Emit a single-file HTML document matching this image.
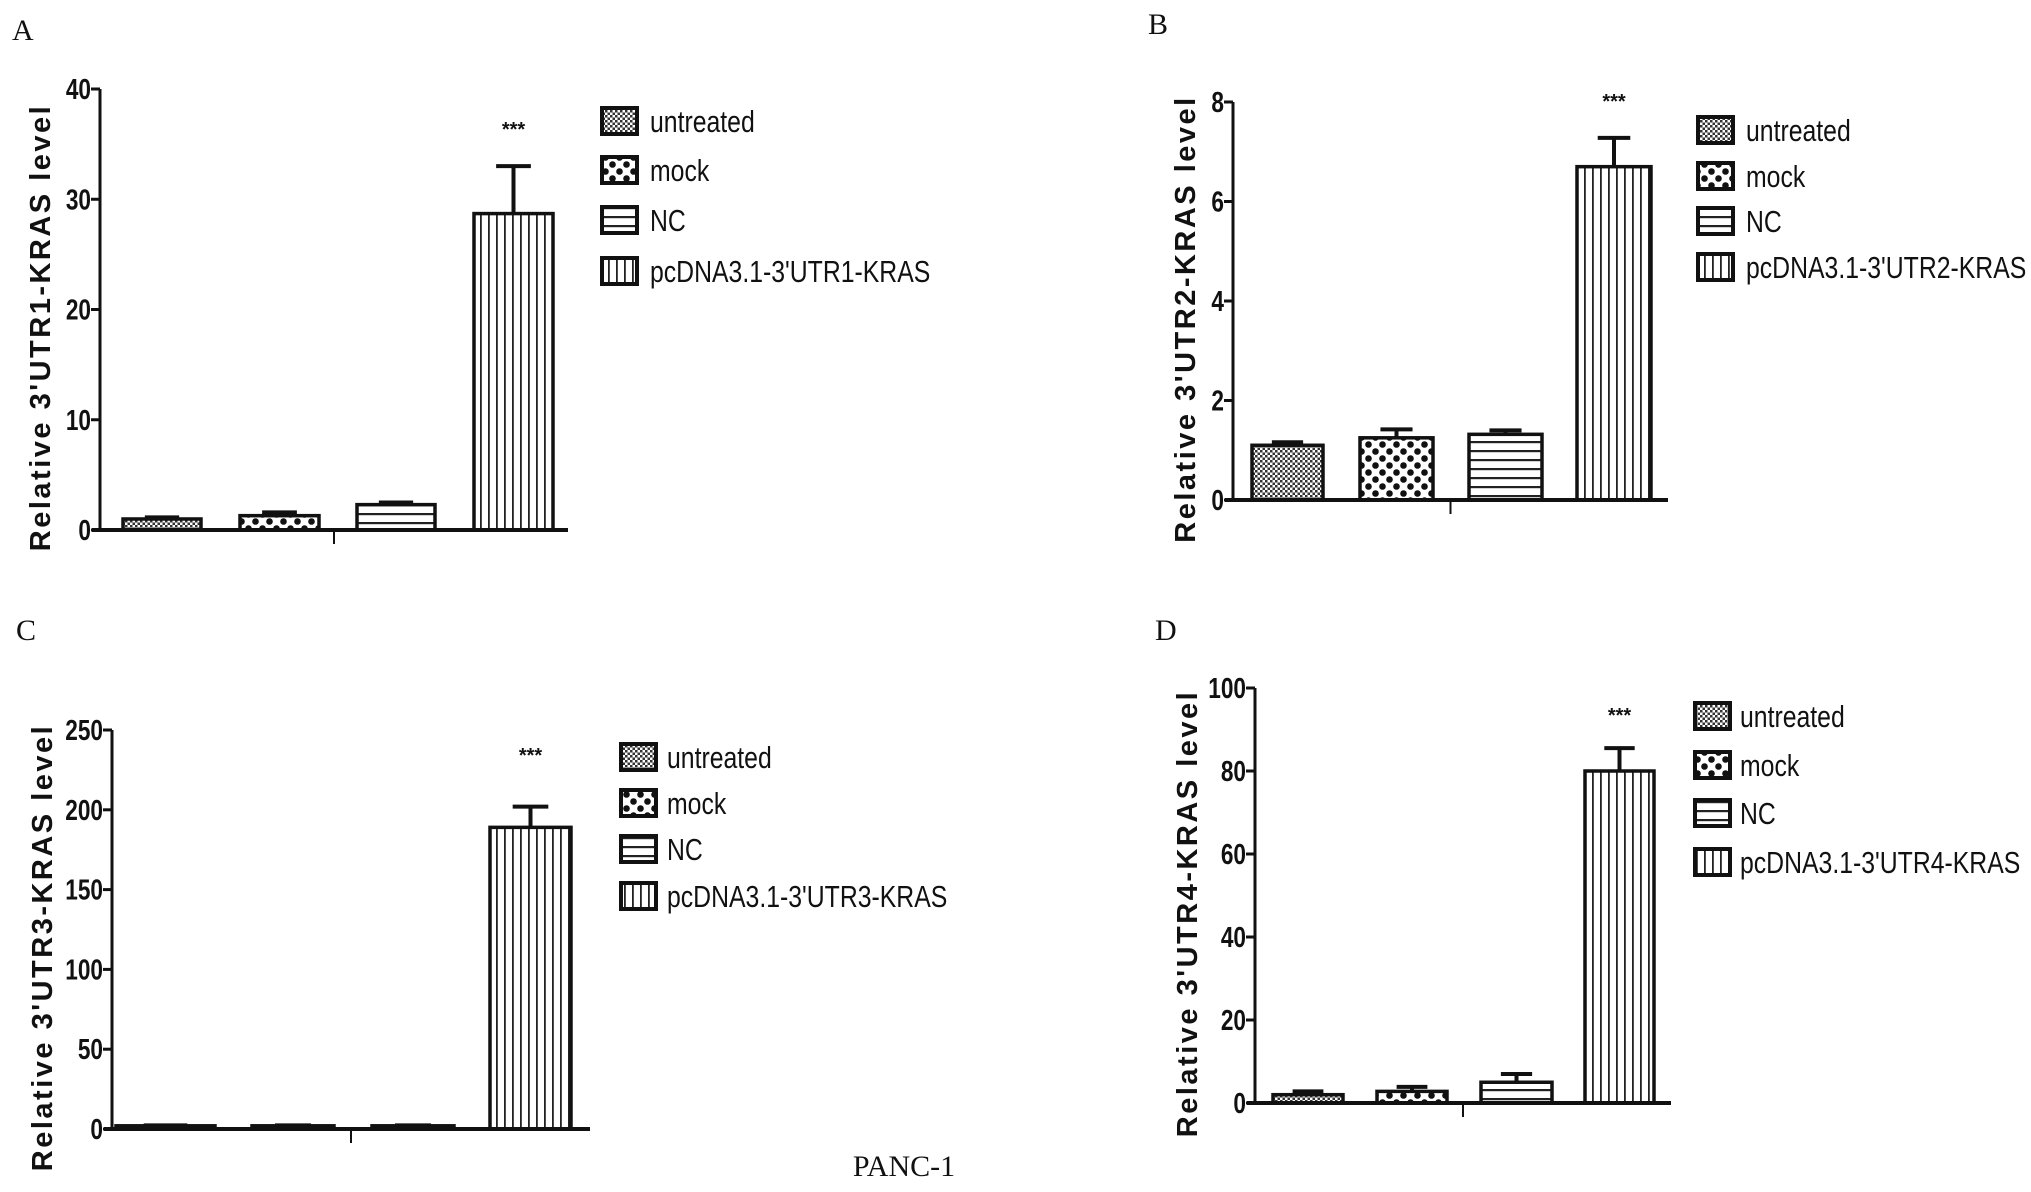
<!DOCTYPE html>
<html><head><meta charset="utf-8"><style>
html,body{margin:0;padding:0;background:#fff;}
svg{display:block;}
</style></head><body>
<svg id="fig" width="2031" height="1192" viewBox="0 0 2031 1192" xmlns="http://www.w3.org/2000/svg">
<defs>
<pattern id="p-untreated" width="5" height="5" patternUnits="userSpaceOnUse"><rect width="5" height="5" fill="#fff"/><rect width="2.5" height="2.5" fill="#333"/><rect x="2.5" y="2.5" width="2.5" height="2.5" fill="#333"/></pattern>
<pattern id="p-mock" width="14" height="14" patternUnits="userSpaceOnUse"><rect width="14" height="14" fill="#fff"/><circle cx="3.5" cy="3.5" r="3.3" fill="#111"/><circle cx="10.5" cy="10.5" r="3.3" fill="#111"/></pattern>
<pattern id="p-nc" width="10" height="9" patternUnits="userSpaceOnUse"><rect width="10" height="9" fill="#fff"/><rect y="0" width="10" height="2.2" fill="#222"/></pattern>
<pattern id="p-pc" width="8" height="10" patternUnits="userSpaceOnUse"><rect width="8" height="10" fill="#fff"/><rect x="0" width="1.8" height="10" fill="#222"/></pattern>
</defs>
</svg>
<script>
// ---- data ----
const categories = ["untreated","mock","NC","pcDNA3.1"];
const valuesA = [1.0, 1.3, 2.3, 28.7];
const errorsA = [0.15, 0.3, 0.2, 4.3];
const ticksA = [0,10,20,30,40];
const valuesB = [1.1, 1.25, 1.32, 6.7];
const errorsB = [0.06, 0.17, 0.08, 0.58];
const ticksB = [0,2,4,6,8];
const valuesC = [2, 2, 2, 189];
const errorsC = [0.3, 0.3, 0.3, 13];
const ticksC = [0,50,100,150,200,250];
const valuesD = [2.0, 2.8, 5.0, 80];
const errorsD = [0.8, 1.1, 2.0, 5.5];
const ticksD = [0,20,40,60,80,100];
const legendLabelsA = ["untreated","mock","NC","pcDNA3.1-3'UTR1-KRAS"];
const legendLabelsB = ["untreated","mock","NC","pcDNA3.1-3'UTR2-KRAS"];
const legendLabelsC = ["untreated","mock","NC","pcDNA3.1-3'UTR3-KRAS"];
const legendLabelsD = ["untreated","mock","NC","pcDNA3.1-3'UTR4-KRAS"];

const NS="http://www.w3.org/2000/svg";
const svg=document.getElementById('fig');
const pats=["p-untreated","p-mock","p-nc","p-pc"];
function mk(tag,attrs,parent){const e=document.createElementNS(NS,tag);for(const k in attrs)e.setAttribute(k,attrs[k]);(parent||svg).appendChild(e);return e;}
function txt(parent,x,y,s,size,anchor,weight,sx,family){
  const t=mk('text',{transform:`translate(${x},${y}) scale(${sx},1)`,'font-size':size,'text-anchor':anchor,'font-weight':weight,'font-family':family||'"Liberation Sans", sans-serif',fill:'#111'},parent);
  t.textContent=s;return t;}

const panels=[
 {id:'a',letter:'A',lx:12,ly:40,ax:100,top:89,zero:530,xend:568,bars:[[123,201],[240,319],[357,435],[474,553]],vals:valuesA,errs:errorsA,ticks:ticksA,title:"Relative 3'UTR1-KRAS level",tx:50,lgx:602,lgtx:650,lgy:[121,170,220,271],legend:legendLabelsA,starY:128},
 {id:'b',letter:'B',lx:1148,ly:34,ax:1233,top:102,zero:500,xend:1668,bars:[[1252,1323],[1360,1433],[1469,1542],[1577,1651]],vals:valuesB,errs:errorsB,ticks:ticksB,title:"Relative 3'UTR2-KRAS level",tx:1195,lgx:1698,lgtx:1746,lgy:[130,176,221,267],legend:legendLabelsB,starY:100},
 {id:'c',letter:'C',lx:16,ly:640,ax:112,top:730,zero:1129,xend:590,bars:[[116,215],[252,334],[372,454],[490,571]],vals:valuesC,errs:errorsC,ticks:ticksC,title:"Relative 3'UTR3-KRAS level",tx:52,lgx:621,lgtx:667,lgy:[757,803,849,896],legend:legendLabelsC,starY:754},
 {id:'d',letter:'D',lx:1155,ly:640,ax:1255,top:688,zero:1103,xend:1671,bars:[[1273,1343],[1377,1447],[1481,1552],[1585,1654]],vals:valuesD,errs:errorsD,ticks:ticksD,title:"Relative 3'UTR4-KRAS level",tx:1197,lgx:1695,lgtx:1740,lgy:[716,765,813,862],legend:legendLabelsD,starY:714}
];

panels.forEach(p=>{
  const g=mk('g',{});
  
  
  const maxT=p.ticks[p.ticks.length-1];
  const y=v=>p.zero-(v/maxT)*(p.zero-p.top);
  const lab=txt(g,p.lx,p.ly,p.letter,30,'start','normal',1,'"Liberation Serif", serif');
  
  
  p.vals.forEach((v,i)=>{
    const [x0,x1]=p.bars[i];
    const yt=y(v), ye=y(v+p.errs[i]), cx=(x0+x1)/2;
    const eg=mk('path',{d:`M${cx},${yt} V${ye} M${cx-(x1-x0)*0.22},${ye} H${cx+(x1-x0)*0.22}`,stroke:'#111','stroke-width':4,fill:'none'},g);
    
    
    const r=mk('rect',{x:x0,y:yt,width:x1-x0,height:Math.max(p.zero-yt,0),fill:`url(#${pats[i]})`,stroke:'#111','stroke-width':3.5},g);
    
    
  });
  const ya=mk('line',{x1:p.ax,y1:p.top,x2:p.ax,y2:p.zero,stroke:'#111','stroke-width':3},g);
  
  
  const xa=mk('line',{x1:p.ax-8,y1:p.zero,x2:p.xend,y2:p.zero,stroke:'#111','stroke-width':4},g);
  
  
  const mid=(p.ax+p.xend)/2;
  const xt=mk('line',{x1:mid,y1:p.zero,x2:mid,y2:p.zero+14,stroke:'#111','stroke-width':2},g);
  
  
  p.ticks.forEach(t=>{
    const ty=y(t);
    const tl=mk('line',{x1:p.ax-9,y1:ty,x2:p.ax,y2:ty,stroke:'#111','stroke-width':3},g);
    
    
    const tt=txt(g,p.ax-9,ty+10,String(t),29,'end','bold',0.78);
    
    
  });
  const cy=(p.top+p.zero)/2+18;
  const ttl=mk('text',{transform:`translate(${p.tx},${cy}) rotate(-90)`,'font-size':29,'font-weight':'bold','text-anchor':'middle','font-family':'"Liberation Sans", sans-serif',fill:'#111','letter-spacing':'2.5'},g);
  ttl.textContent=p.title;
  
  
  const sx=(p.bars[3][0]+p.bars[3][1])/2;
  const st=txt(g,sx,p.starY+8,'***',20,'middle','bold',1);
  
  
  p.legend.forEach((s,i)=>{
    const ly=p.lgy[i];
    const sw=mk('rect',{x:p.lgx,y:ly-13,width:35,height:26,fill:`url(#${pats[i]})`,stroke:'#111','stroke-width':4},g);
    
    
    const lt=txt(g,p.lgtx,ly+11,s,31,'start','normal',0.8);
    
    
  });
});
const foot=txt(svg,904,1176,'PANC-1',30,'middle','normal',1,'"Liberation Serif", serif');


</script>
</body></html>
